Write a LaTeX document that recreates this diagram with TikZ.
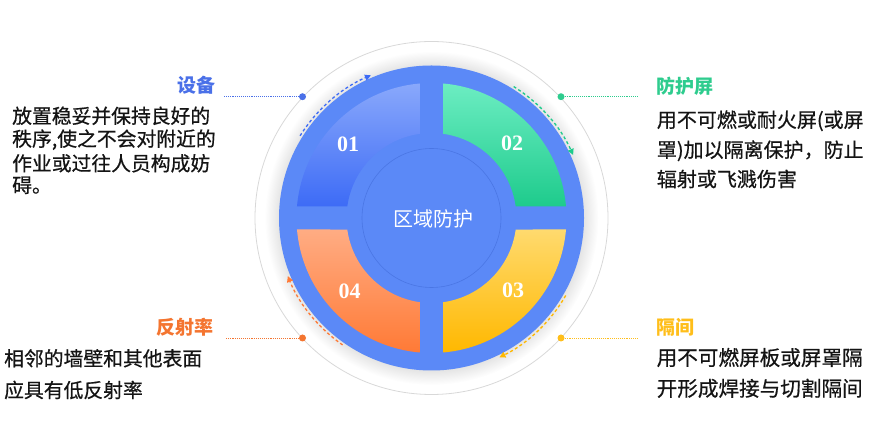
\documentclass[tikz,border=0pt]{standalone}
\usepackage{fontspec}
\setmainfont{Noto Sans CJK SC}
\newfontfamily\bodyfont[FakeBold=0.6]{Noto Sans CJK SC}
\newfontfamily\numfont{Liberation Serif}
\usetikzlibrary{arrows.meta}
\definecolor{diskblue}{HTML}{5B89F7}
\definecolor{innerline}{HTML}{4A76E4}
\definecolor{ringgray}{HTML}{D8D8D8}
\definecolor{sAtop}{HTML}{89A8FB}
\definecolor{sAbot}{HTML}{3D6BF6}
\definecolor{sBtop}{HTML}{6CEDC2}
\definecolor{sBbot}{HTML}{1ECB8C}
\definecolor{sCtop}{HTML}{FFDA6E}
\definecolor{sCbot}{HTML}{FFB800}
\definecolor{sDtop}{HTML}{FFAC83}
\definecolor{sDbot}{HTML}{FF7A36}
\definecolor{cblue}{HTML}{4A70E8}
\definecolor{cgreen}{HTML}{2ECC8E}
\definecolor{cyellow}{HTML}{FFBE1A}
\definecolor{corange}{HTML}{F47530}
\definecolor{bodytext}{HTML}{141414}
\pgfdeclareradialshading{glow}{\pgfpoint{0bp}{0bp}}{color(0bp)=(black!11); color(22.7bp)=(black!11); color(25bp)=(white); color(50bp)=(white)}
\begin{document}
\begin{tikzpicture}[x=1pt,y=1pt,
  num/.style={font=\numfont\bfseries\fontsize{22}{22}\selectfont, text=white, inner sep=0pt},
  title/.style={font=\bfseries\fontsize{19}{19}\selectfont, inner sep=0pt},
  body/.style={font=\bodyfont\fontsize{19.8}{20}\selectfont, text=bodytext, inner sep=0pt, anchor=west},
  dot/.style={circle, inner sep=0pt, minimum size=7pt},
  leader/.style={line width=0.8pt, dash pattern=on 0.8pt off 1.1pt},
  flow/.style={line width=1.3pt, dash pattern=on 3pt off 2.5pt, -{Triangle[length=6pt,width=6pt]}}
]
\useasboundingbox (0,0) rectangle (873,433);
\coordinate (C) at (431.5,215);
% glow and rings
\shade[shading=glow] (C) circle (167pt);
\draw[ringgray, line width=0.8pt] (C) circle (176.5pt);
\fill[diskblue] (C) circle (152.5pt);
\draw[innerline, line width=0.6pt] (C) circle (69.5pt);
\begin{scope}[shift={(C)}]
  % sectors
  \shade[top color=sAtop, bottom color=sAbot] (94.89:135pt) arc[start angle=94.89, end angle=175.11, radius=135pt] -- (172.22:85pt) arc[start angle=172.22, end angle=97.78, radius=85pt] -- cycle;
  \shade[top color=sBtop, bottom color=sBbot] (4.89:135pt) arc[start angle=4.89, end angle=85.11, radius=135pt] -- (82.22:85pt) arc[start angle=82.22, end angle=7.78, radius=85pt] -- cycle;
  \shade[top color=sCtop, bottom color=sCbot] (-85.11:135pt) arc[start angle=-85.11, end angle=-4.89, radius=135pt] -- (-7.78:85pt) arc[start angle=-7.78, end angle=-82.22, radius=85pt] -- cycle;
  \shade[top color=sDtop, bottom color=sDbot] (184.89:135pt) arc[start angle=184.89, end angle=265.11, radius=135pt] -- (262.22:85pt) arc[start angle=262.22, end angle=187.78, radius=85pt] -- cycle;
  % flow arcs
  \draw[flow, sAbot] (148:155pt) arc[start angle=148, end angle=113, radius=155pt];
  \draw[flow, sBbot] (58:155pt) arc[start angle=58, end angle=24, radius=155pt];
  \draw[flow, sCbot] (-30:155pt) arc[start angle=-30, end angle=-64, radius=155pt];
  \draw[flow, sDbot] (235:155pt) arc[start angle=235, end angle=202, radius=155pt];
\end{scope}
% numbers and centre
\node[num] (n1) at (348,289) {01};
\node[num] (n2) at (512,290) {02};
\node[num] (n3) at (513,143) {03};
\node[num] (n4) at (349.5,141.5) {04};
\node[font=\fontsize{20}{20}\selectfont, text=white, inner sep=0pt] (ctr) at (433,214.5) {区域防护};
% dots and leaders
\node[dot, fill=cblue] (d1) at (302.5,336.3) {};
\node[dot, fill=cgreen] (d2) at (561,336.3) {};
\node[dot, fill=cyellow] (d3) at (561,95) {};
\node[dot, fill=corange] (d4) at (302.5,95) {};
\coordinate (e1) at (224,336.3);
\coordinate (e2) at (638,336.3);
\coordinate (e3) at (637,95);
\coordinate (e4) at (225,95);
\draw[leader, cblue] (d1) -- (e1);
\draw[leader, cgreen] (d2) -- (e2);
\draw[leader, cyellow] (d3) -- (e3);
\draw[leader, corange] (d4) -- (e4);
% titles
\node[title, text=cblue, anchor=east] (h1) at (216,347.5) {设备};
\node[title, text=cgreen, anchor=west] (h2) at (656,346.3) {防护屏};
\node[title, text=cyellow, anchor=west] (h3) at (656,106) {隔间};
\node[title, text=corange, anchor=east] (h4) at (213.5,106) {反射率};
% bodies
\node[body] (b1a) at (12,317.2) {放置稳妥并保持良好的};
\node[body] (b1b) at (12,293.3) {秩序,使之不会对附近的};
\node[body] (b1c) at (12,269.7) {作业或过往人员构成妨};
\node[body] (b1d) at (12,247.7) {碍。};
\node[body, font=\bodyfont\fontsize{20}{20}\selectfont] (b2a) at (656.7,312.2) {用不可燃或耐火屏(或屏};
\node[body, font=\bodyfont\fontsize{20}{20}\selectfont] (b2b) at (656.7,282.2) {罩)加以隔离保护，防止};
\node[body, font=\bodyfont\fontsize{20}{20}\selectfont] (b2c) at (656.7,254) {辐射或飞溅伤害};
\node[body, font=\bodyfont\fontsize{20.6}{20}\selectfont] (b3a) at (656.5,75.5) {用不可燃屏板或屏罩隔};
\node[body, font=\bodyfont\fontsize{20.6}{20}\selectfont] (b3b) at (656.5,44.7) {开形成焊接与切割隔间};
\node[body] (b4a) at (4,74.7) {相邻的墙壁和其他表面};
\node[body] (b4b) at (4,43) {应具有低反射率};
\end{tikzpicture}
\end{document}
